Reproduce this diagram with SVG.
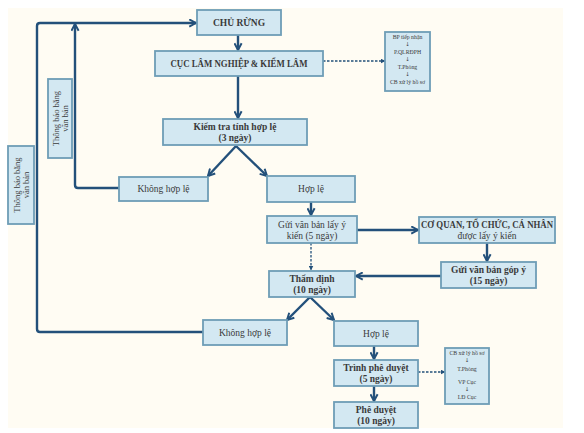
<svg xmlns="http://www.w3.org/2000/svg" width="584" height="433" viewBox="0 0 584 433">
<defs>
<marker id="ah" viewBox="0 0 10 10" refX="8.5" refY="5" markerWidth="9" markerHeight="9" markerUnits="userSpaceOnUse" orient="auto">
<path d="M1,1 L8.5,5 L1,9" fill="none" stroke="#23507a" stroke-width="2.2" stroke-linejoin="miter"/>
</marker>
<marker id="ahs" viewBox="0 0 10 10" refX="9" refY="5" markerWidth="5" markerHeight="5" markerUnits="userSpaceOnUse" orient="auto">
<path d="M0,0 L10,5 L0,10 Z" fill="#23507a"/>
</marker>
<style>
.bx{fill:#d3e8f2;stroke:#6e9db6;stroke-width:1.8}
.t{font-family:"Liberation Serif","Times New Roman",serif;font-size:9.5px;fill:#3a3a3a;text-anchor:middle}
.b{font-weight:bold}
.s{font-family:"Liberation Serif","DejaVu Serif",serif;font-size:5.8px;fill:#3a3a3a;text-anchor:middle}
.a{font-family:"DejaVu Sans",sans-serif;font-size:5.5px;fill:#3a3a3a;text-anchor:middle}
.v{font-family:"Liberation Serif","Times New Roman",serif;font-size:8.5px;fill:#3a3a3a;text-anchor:middle}
.c{fill:none;stroke:#23507a;stroke-width:2.4;stroke-linejoin:round}
.d{fill:none;stroke:#23507a;stroke-width:1.3;stroke-dasharray:2.5 1.5}
</style>
</defs>
<rect x="0" y="0" width="584" height="433" fill="#ffffff"/>
<rect x="8" y="8" width="555" height="420" fill="#fffcf3"/>

<g id="connectors">
<path class="c" d="M203,332 H40 Q37,332 37,329 V26 Q37,23 40,23 H196" marker-end="url(#ah)"/>
<path class="c" d="M119,188 H78 Q75,188 75,185 V24" marker-end="url(#ah)"/>
<path class="c" d="M238,35 V50" marker-end="url(#ah)"/>
<path class="c" d="M238,76 V118" marker-end="url(#ah)"/>
<path class="c" d="M236,146 L208,176" marker-end="url(#ah)"/>
<path class="c" d="M236,146 L267,176" marker-end="url(#ah)"/>
<path class="c" d="M311,202 V215" marker-end="url(#ah)"/>
<path class="c" d="M357,230 H418" marker-end="url(#ah)"/>
<path class="c" d="M487,243 V261" marker-end="url(#ah)"/>
<path class="c" d="M441,276 H356" marker-end="url(#ah)"/>
<path class="d" d="M311,243 V270" marker-end="url(#ahs)"/>
<path class="c" d="M310,297 L287,320" marker-end="url(#ah)"/>
<path class="c" d="M310,297 L334,320" marker-end="url(#ah)"/>
<path class="c" d="M374,346 V359" marker-end="url(#ah)"/>
<path class="c" d="M374,386 V401" marker-end="url(#ah)"/>
<path class="d" d="M418,372 H445" marker-end="url(#ahs)"/>
<path class="d" d="M323,61 H385" marker-end="url(#ahs)"/>
</g>

<g id="chu_rung"><rect class="bx" x="197" y="10" width="84" height="25"/><text class="t b" x="239" y="26">CHỦ RỪNG</text></g>
<g id="cuc"><rect class="bx" x="155" y="51" width="168" height="25"/><text class="t b" x="239" y="67" font-size="9" textLength="137" lengthAdjust="spacingAndGlyphs">CỤC LÂM NGHIỆP &amp; KIỂM LÂM</text></g>
<g id="bp_box"><rect class="bx" x="385" y="32" width="45" height="59"/>
<text class="s" x="407.5" y="39">BP tiếp nhận</text>
<text class="a" x="407.5" y="46">↓</text>
<text class="s" x="407.5" y="54">P.QLRĐPH</text>
<text class="a" x="407.5" y="61">↓</text>
<text class="s" x="407.5" y="69">T.Phòng</text>
<text class="a" x="407.5" y="76">↓</text>
<text class="s" x="407.5" y="84">CB xử lý hồ sơ</text></g>
<g id="kiem_tra"><rect class="bx" x="163" y="119" width="144" height="26"/><text class="t b" x="235" y="130">Kiểm tra tính hợp lệ</text><text class="t b" x="235" y="141">(3 ngày)</text></g>
<g id="khong1"><rect class="bx" x="119" y="177" width="89" height="24"/><text class="t" x="163.5" y="192">Không hợp lệ</text></g>
<g id="hople1"><rect class="bx" x="267" y="176" width="88" height="26"/><text class="t" x="311" y="192">Hợp lệ</text></g>
<g id="gui"><rect class="bx" x="267" y="216" width="90" height="27"/><text class="t" x="312" y="228">Gửi văn bản lấy ý</text><text class="t" x="312" y="239">kiến (5 ngày)</text></g>
<g id="coquan"><rect class="bx" x="419" y="217" width="136" height="26"/><text class="t b" x="487" y="227.5" font-size="9" textLength="132" lengthAdjust="spacingAndGlyphs">CƠ QUAN, TỔ CHỨC, CÁ NHÂN</text><text class="t" x="487" y="239">được lấy ý kiến</text></g>
<g id="gopy"><rect class="bx" x="441" y="262" width="95" height="26"/><text class="t b" x="488.5" y="273">Gửi văn bản góp ý</text><text class="t b" x="488.5" y="284">(15 ngày)</text></g>
<g id="thamdinh"><rect class="bx" x="269" y="271" width="86" height="26"/><text class="t b" x="312" y="282">Thẩm định</text><text class="t b" x="312" y="293">(10 ngày)</text></g>
<g id="khong2"><rect class="bx" x="203" y="320" width="84" height="25"/><text class="t" x="245" y="336">Không hợp lệ</text></g>
<g id="hople2"><rect class="bx" x="334" y="321" width="84" height="25"/><text class="t" x="376" y="337">Hợp lệ</text></g>
<g id="trinh"><rect class="bx" x="334" y="360" width="84" height="26"/><text class="t b" x="376" y="371">Trình phê duyệt</text><text class="t b" x="376" y="382">(5 ngày)</text></g>
<g id="pheduyet"><rect class="bx" x="334" y="402" width="84" height="26"/><text class="t b" x="376" y="413">Phê duyệt</text><text class="t b" x="376" y="424">(10 ngày)</text></g>
<g id="cb_box"><rect class="bx" x="445" y="348" width="44" height="56"/>
<text class="s" x="467" y="355">CB xử lý hồ sơ</text>
<text class="a" x="467" y="362">↓</text>
<text class="s" x="467" y="371">T.Phòng</text>
<text class="s" x="467" y="384">VP Cục</text>
<text class="a" x="467" y="391">↓</text>
<text class="s" x="467" y="399">LĐ Cục</text></g>
<g id="tb_inner"><rect class="bx" x="48" y="79" width="24" height="79"/>
<g transform="translate(60,118.5) rotate(-90)"><text class="v" x="0" y="-1.5">Thông báo bằng</text><text class="v" x="0" y="8">văn bản</text></g></g>
<g id="tb_outer"><rect class="bx" x="8" y="146" width="26" height="78"/>
<g transform="translate(21,185) rotate(-90)"><text class="v" x="0" y="-1.5">Thông báo bằng</text><text class="v" x="0" y="8">văn bản</text></g></g>
</svg>
